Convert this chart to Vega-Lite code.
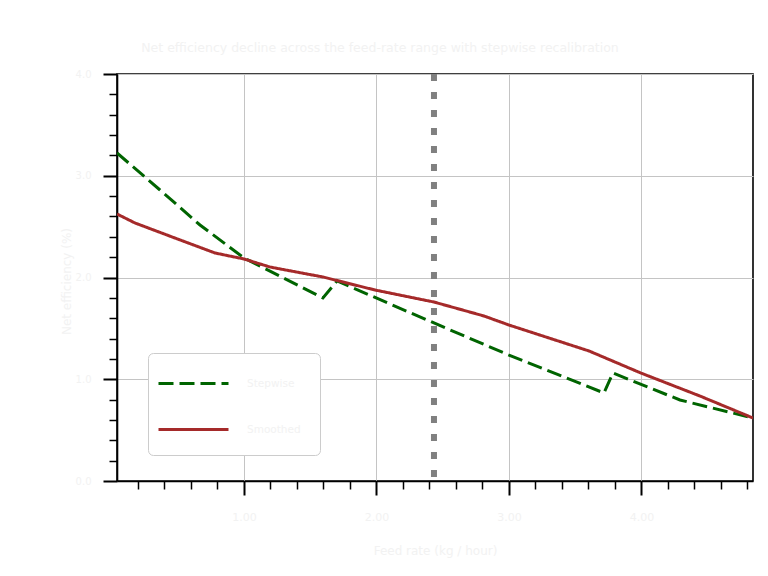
{
  "$schema": "https://vega.github.io/schema/vega-lite/v6.json",
  "width": 636,
  "height": 407,
  "autosize": "none",
  "padding": {"left": 117, "top": 74, "right": 15, "bottom": 95},
  "background": "white",
  "config": {
    "view": {"stroke": "black", "strokeWidth": 1.6},
    "font": "DejaVu Sans"
  },
  "title": {
    "text": "Net efficiency decline across the feed-rate range with stepwise recalibration",
    "fontSize": 12.5,
    "fontWeight": "normal",
    "color": "#f2f2f2",
    "offset": 15,
    "dx": -55
  },
  "datasets": {
    "lines": [
      {"series": "Stepwise", "x": 0.0415, "y": 3.224},
      {"series": "Stepwise", "x": 0.366, "y": 2.86},
      {"series": "Stepwise", "x": 0.668, "y": 2.516},
      {"series": "Stepwise", "x": 1.0, "y": 2.192},
      {"series": "Stepwise", "x": 1.596, "y": 1.799},
      {"series": "Stepwise", "x": 1.702, "y": 1.966},
      {"series": "Stepwise", "x": 2.434, "y": 1.553},
      {"series": "Stepwise", "x": 3.0, "y": 1.238},
      {"series": "Stepwise", "x": 3.717, "y": 0.865},
      {"series": "Stepwise", "x": 3.785, "y": 1.061},
      {"series": "Stepwise", "x": 4.291, "y": 0.796},
      {"series": "Stepwise", "x": 4.842, "y": 0.619},
      {"series": "Smoothed", "x": 0.0415, "y": 2.624},
      {"series": "Smoothed", "x": 0.177, "y": 2.536},
      {"series": "Smoothed", "x": 0.479, "y": 2.388},
      {"series": "Smoothed", "x": 0.781, "y": 2.241},
      {"series": "Smoothed", "x": 1.0, "y": 2.182},
      {"series": "Smoothed", "x": 1.196, "y": 2.103},
      {"series": "Smoothed", "x": 1.596, "y": 2.005},
      {"series": "Smoothed", "x": 1.989, "y": 1.877},
      {"series": "Smoothed", "x": 2.434, "y": 1.759},
      {"series": "Smoothed", "x": 2.811, "y": 1.622},
      {"series": "Smoothed", "x": 3.0, "y": 1.533},
      {"series": "Smoothed", "x": 3.604, "y": 1.278},
      {"series": "Smoothed", "x": 3.996, "y": 1.061},
      {"series": "Smoothed", "x": 4.442, "y": 0.835},
      {"series": "Smoothed", "x": 4.842, "y": 0.619}
    ],
    "marker": [{"x": 2.434}]
  },
  "layer": [
    {
      "data": {"name": "lines"},
      "mark": {"type": "line", "opacity": 0},
      "encoding": {
        "x": {
          "field": "x", "type": "quantitative",
          "scale": {"domain": [0.0415, 4.842], "nice": false, "zero": false},
          "axis": {
            "orient": "bottom", "title": null, "labels": false, "grid": false, "domain": false,
            "values": [0.2, 0.4, 0.6, 0.8, 1.2, 1.4, 1.6, 1.8, 2.2, 2.4, 2.6, 2.8, 3.2, 3.4, 3.6, 3.8, 4.2, 4.4, 4.6, 4.8],
            "tickSize": 8, "tickWidth": 1.5, "tickColor": "black"
          }
        },
        "y": {
          "field": "y", "type": "quantitative",
          "scale": {"domain": [0, 4], "nice": false, "zero": false},
          "axis": {
            "orient": "left", "title": null, "labels": false, "grid": false, "domain": false,
            "values": [0.2, 0.4, 0.6, 0.8, 1.2, 1.4, 1.6, 1.8, 2.2, 2.4, 2.6, 2.8, 3.2, 3.4, 3.6, 3.8],
            "tickSize": 8, "tickWidth": 1.5, "tickColor": "black"
          }
        },
        "detail": {"field": "series"}
      }
    },
    {
      "data": {"name": "lines"},
      "mark": {"type": "line", "strokeWidth": 3, "clip": true},
      "encoding": {
        "x": {
          "field": "x", "type": "quantitative",
          "axis": {
            "orient": "bottom", "title": "Feed rate (kg / hour)",
            "values": [1, 2, 3, 4], "format": ".2f",
            "grid": true, "gridColor": "#c4c4c4", "gridWidth": 1,
            "tickSize": 14, "tickWidth": 2, "tickColor": "black",
            "domain": true, "domainColor": "black", "domainWidth": 1.6,
            "labelFontSize": 11, "labelColor": "#f2f2f2", "labelPadding": 16,
            "titleFontSize": 12, "titleFontWeight": "normal", "titleColor": "#f2f2f2", "titlePadding": 23
          }
        },
        "y": {
          "field": "y", "type": "quantitative",
          "axis": {
            "orient": "left", "title": "Net efficiency (%)",
            "values": [0, 1, 2, 3, 4], "format": ".1f",
            "grid": true, "gridColor": "#c4c4c4", "gridWidth": 1,
            "tickSize": 14, "tickWidth": 2, "tickColor": "black",
            "domain": true, "domainColor": "black", "domainWidth": 1.6,
            "labelFontSize": 10, "labelColor": "#f2f2f2", "labelPadding": 12, "labelDy": 4,
            "titleFontSize": 12, "titleFontWeight": "normal", "titleColor": "#f2f2f2",
            "titleX": -51, "titleY": 207, "titleBaseline": "middle", "titleAlign": "center", "titleAngle": 270
          }
        },
        "color": {
          "field": "series", "type": "nominal",
          "scale": {"domain": ["Stepwise", "Smoothed"], "range": ["#006400", "#a52a2a"]},
          "legend": {
            "title": null, "orient": "none", "legendX": 31, "legendY": 279,
            "fillColor": "white", "strokeColor": "#cccccc", "cornerRadius": 5, "padding": 19,
            "symbolType": "M-3.5,0H3.5", "symbolSize": 400, "symbolStrokeWidth": 3, "symbolOffset": 15,
            "rowPadding": 28, "labelOffset": 42, "labelFontSize": 10.5, "labelColor": "#f2f2f2"
          }
        },
        "strokeDash": {
          "field": "series", "type": "nominal",
          "scale": {"domain": ["Stepwise", "Smoothed"], "range": [[15, 6], [1, 0]]},
          "legend": {
            "title": null, "orient": "none", "legendX": 31, "legendY": 279,
            "fillColor": "white", "strokeColor": "#cccccc", "cornerRadius": 5, "padding": 19,
            "symbolType": "M-3.5,0H3.5", "symbolSize": 400, "symbolStrokeWidth": 3, "symbolOffset": 15,
            "rowPadding": 28, "labelOffset": 42, "labelFontSize": 10.5, "labelColor": "#f2f2f2"
          }
        }
      }
    },
    {
      "data": {"name": "marker"},
      "mark": {"type": "rule", "color": "#808080", "strokeWidth": 6, "strokeDash": [7, 11]},
      "encoding": {
        "x": {"field": "x", "type": "quantitative", "axis": null}
      }
    }
  ],
  "resolve": {"axis": {"x": "independent", "y": "independent"}}
}
